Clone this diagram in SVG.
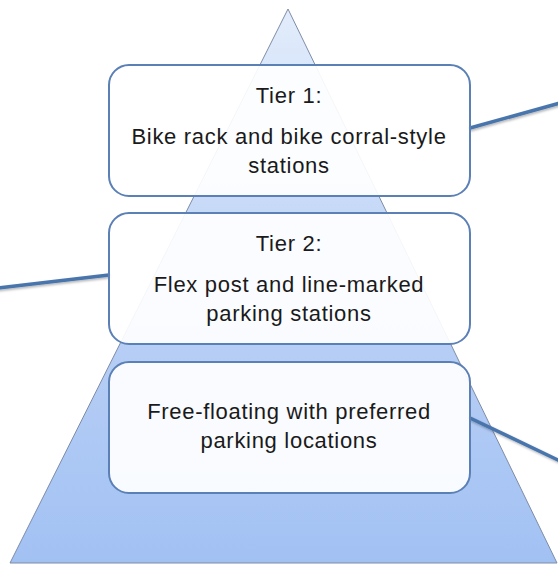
<svg xmlns="http://www.w3.org/2000/svg" width="558" height="565" viewBox="0 0 558 565">
<defs>
<linearGradient id="tri" x1="0" y1="0" x2="0" y2="1">
<stop offset="0" stop-color="#e2ecfb"/>
<stop offset="0.5" stop-color="#bcd2f6"/>
<stop offset="1" stop-color="#a2c1f3"/>
</linearGradient>
<filter id="sh" x="-10%" y="-50%" width="120%" height="200%">
<feDropShadow dx="1" dy="1.5" stdDeviation="1" flood-color="#000" flood-opacity="0.3"/>
</filter>
<style>
.box{fill:#ffffff;fill-opacity:0.92;stroke:#5b80b6;stroke-width:2}
.t{font-family:"Liberation Sans","DejaVu Sans",sans-serif;font-size:22px;letter-spacing:0.7px;fill:#1a1a1a;text-anchor:middle}
.c{stroke:#4a74ad;stroke-width:3.5;fill:none;stroke-linecap:round}
</style>
</defs>
<rect width="558" height="565" fill="#ffffff"/>
<polygon points="288,9 10,563 557,563" fill="url(#tri)" stroke="#7d8ca6" stroke-width="1"/>
<g id="connectors" filter="url(#sh)">
<line class="c" x1="470" y1="128" x2="560" y2="103"/>
<line class="c" x1="109" y1="275" x2="-2" y2="288"/>
<line class="c" x1="470" y1="418" x2="560" y2="461"/>
</g>
<g id="tier1">
<rect class="box" x="109" y="65" width="361" height="131" rx="20"/>
<text class="t" x="289" y="103">Tier 1:</text>
<text class="t" x="289" y="144">Bike rack and bike corral-style</text>
<text class="t" x="289" y="173">stations</text>
</g>
<g id="tier2">
<rect class="box" x="109" y="213" width="361" height="131" rx="20"/>
<text class="t" x="289" y="251">Tier 2:</text>
<text class="t" x="289" y="292">Flex post and line-marked</text>
<text class="t" x="289" y="321">parking stations</text>
</g>
<g id="tier3">
<rect class="box" x="109" y="362" width="361" height="131" rx="20"/>
<text class="t" x="289" y="419">Free-floating with preferred</text>
<text class="t" x="289" y="448">parking locations</text>
</g>
</svg>
